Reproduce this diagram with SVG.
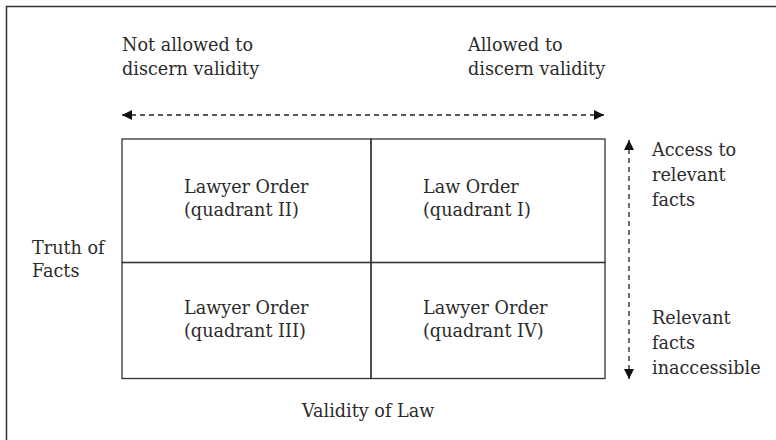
<svg xmlns="http://www.w3.org/2000/svg" width="776" height="440" viewBox="0 0 776 440">
<style>
text{font-family:"DejaVu Serif","Liberation Serif",serif;font-size:17.6px;fill:#2b2b2b}
.cell{fill:none;stroke:#333;stroke-width:1.3}
.dash{fill:none;stroke:#222;stroke-width:1.3;stroke-dasharray:5 4}
.frame{fill:none;stroke:#333;stroke-width:1.5}
</style>
<defs>
<marker id="ah" viewBox="0 0 10 10" refX="10" refY="5" markerWidth="10" markerHeight="10" markerUnits="userSpaceOnUse" orient="auto-start-reverse">
<path d="M0,0 L10,5 L0,10 Z" fill="#111"/>
</marker>
</defs>
<path class="frame" d="M6.5,440 V6.5 H776"/>
<g id="labels-top">
<text x="122" y="51">Not allowed to</text>
<text x="122" y="75">discern validity</text>
<text x="468" y="51">Allowed to</text>
<text x="468" y="75">discern validity</text>
</g>
<g id="q2">
<rect class="cell" x="122" y="139" width="249" height="123.5"/>
<text x="184" y="193">Lawyer Order</text>
<text x="184" y="216">(quadrant II)</text>
</g>
<g id="q1">
<rect class="cell" x="371" y="139" width="234" height="123.5"/>
<text x="423" y="193">Law Order</text>
<text x="423" y="216">(quadrant I)</text>
</g>
<g id="q3">
<rect class="cell" x="122" y="262.5" width="249" height="116"/>
<text x="184" y="314">Lawyer Order</text>
<text x="184" y="337">(quadrant III)</text>
</g>
<g id="q4">
<rect class="cell" x="371" y="262.5" width="234" height="116"/>
<text x="423" y="314">Lawyer Order</text>
<text x="423" y="337">(quadrant IV)</text>
</g>
<g id="truth">
<text x="32" y="254">Truth of</text>
<text x="32" y="277">Facts</text>
</g>
<g id="validity">
<text x="302" y="417">Validity of Law</text>
</g>
<g id="labels-right">
<text x="652" y="156">Access to</text>
<text x="652" y="181">relevant</text>
<text x="652" y="206">facts</text>
<text x="652" y="324">Relevant</text>
<text x="652" y="349">facts</text>
<text x="652" y="374">inaccessible</text>
</g>
<g id="connectors">
<line class="dash" x1="122" y1="115" x2="604" y2="115" marker-start="url(#ah)" marker-end="url(#ah)"/>
<line class="dash" x1="629" y1="140" x2="629" y2="379" marker-start="url(#ah)" marker-end="url(#ah)"/>
</g>
</svg>
